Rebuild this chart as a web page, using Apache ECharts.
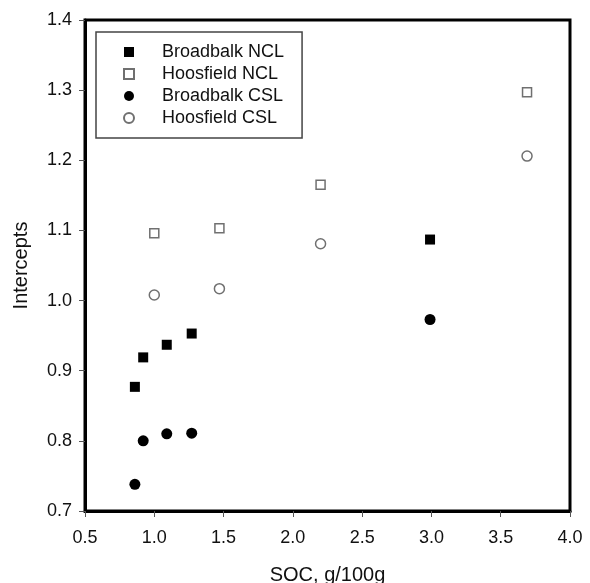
<!DOCTYPE html>
<html>
<head>
<meta charset="utf-8">
<script src="https://cdn.jsdelivr.net/npm/echarts@6/dist/echarts.min.js"></script>
<style>
html,body{margin:0;padding:0;background:#fff;}
#c{width:590px;height:583px;}
</style>
</head>
<body>
<div id="c"></div>
<script>
var seriesNames = ['Broadbalk NCL', 'Hoosfield NCL', 'Broadbalk CSL', 'Hoosfield CSL'];
var broadbalkNCL = [[0.86, 0.877], [0.92, 0.919], [1.09, 0.937], [1.27, 0.953], [2.99, 1.087]];
var hoosfieldNCL = [[1.00, 1.096], [1.47, 1.103], [2.20, 1.165], [3.69, 1.297]];
var broadbalkCSL = [[0.86, 0.738], [0.92, 0.800], [1.09, 0.810], [1.27, 0.811], [2.99, 0.973]];
var hoosfieldCSL = [[1.00, 1.008], [1.47, 1.017], [2.20, 1.081], [3.69, 1.206]];
var xTitle = 'SOC, g/100g';
var yTitle = 'Intercepts';

var FONT = '"Liberation Sans", Arial, sans-serif';
var chart = echarts.init(document.getElementById('c'), null, {renderer: 'canvas'});

var filled = {color: '#000', opacity: 1};
var hollow = {color: '#fff', borderColor: '#707070', borderWidth: 1.5, opacity: 1};

chart.setOption({
  animation: false,
  backgroundColor: '#fff',
  grid: {left: 85, right: 20, top: 20, bottom: 72, containLabel: false, outerBoundsMode: 'none',
         show: true, borderColor: '#000', borderWidth: 3, backgroundColor: 'transparent'},
  legend: {
    orient: 'vertical',
    left: 96, top: 32,
    padding: [9, 18, 9, 27],
    itemWidth: 10, itemHeight: 10,
    itemGap: 0,
    borderColor: '#444', borderWidth: 1.5,
    textStyle: {fontFamily: FONT, fontSize: 18, color: '#111', lineHeight: 22, padding: [0, 0, 0, 23]},
    data: seriesNames
  },
  xAxis: {
    type: 'value', min: 0.5, max: 4.0, interval: 0.5,
    name: xTitle, nameLocation: 'middle', nameGap: 54,
    nameTextStyle: {fontFamily: FONT, fontSize: 20, color: '#111'},
    axisLine: {show: true, onZero: false, lineStyle: {color: '#000', width: 3}},
    axisTick: {show: true, inside: false, length: 6, lineStyle: {color: '#555', width: 1}},
    axisLabel: {fontFamily: FONT, fontSize: 18, color: '#111', margin: 18, formatter: function (v) { return v.toFixed(1); }},
    splitLine: {show: false}
  },
  yAxis: {
    type: 'value', min: 0.7, max: 1.4, interval: 0.1,
    name: yTitle, nameLocation: 'middle', nameGap: 54, nameRotate: 90,
    nameTextStyle: {fontFamily: FONT, fontSize: 20, color: '#111'},
    axisLine: {show: true, onZero: false, lineStyle: {color: '#000', width: 3}},
    axisTick: {show: true, inside: false, length: 6, lineStyle: {color: '#555', width: 1}},
    axisLabel: {fontFamily: FONT, fontSize: 18, color: '#111', margin: 13, formatter: function (v) { return v.toFixed(1); }},
    splitLine: {show: false}
  },
  series: [
    {name: seriesNames[0], type: 'scatter', symbol: 'rect', symbolSize: 10, itemStyle: filled, data: broadbalkNCL},
    {name: seriesNames[1], type: 'scatter', symbol: 'rect', symbolSize: 9, itemStyle: hollow, data: hoosfieldNCL},
    {name: seriesNames[2], type: 'scatter', symbol: 'circle', symbolSize: 11, itemStyle: filled, data: broadbalkCSL},
    {name: seriesNames[3], type: 'scatter', symbol: 'circle', symbolSize: 10, itemStyle: hollow, data: hoosfieldCSL}
  ]
});
</script>
</body>
</html>
